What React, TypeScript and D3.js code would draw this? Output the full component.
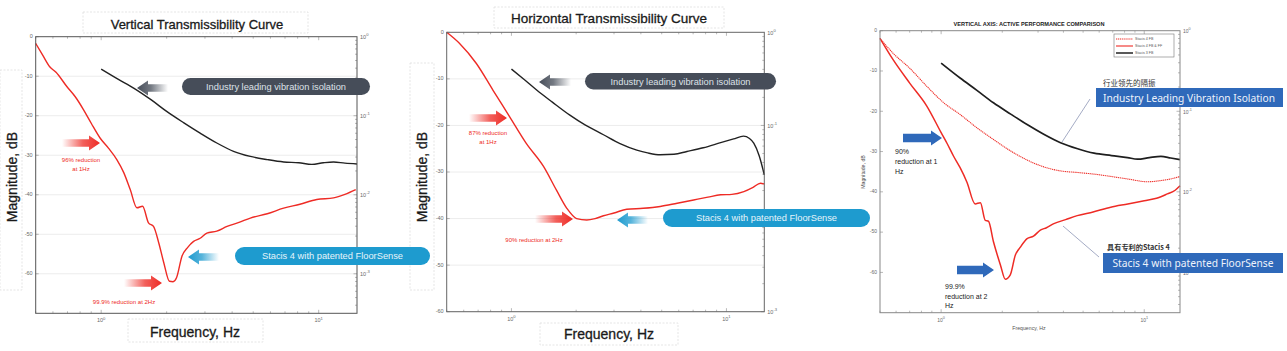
import * as d3 from 'd3';

// ---- data (frequency in Hz, magnitude in dB) ----

// Vertical Transmissibility Curve
const vertFreqBlack = [1, 1.2, 1.41, 1.7, 2.0, 2.4, 2.85, 3.4, 4.06, 4.85, 5.8, 6.9, 8.1, 9.3, 10.5, 11.7, 13.2, 15];
const vertDbBlack = [-8.2, -10.8, -13.0, -16.0, -18.9, -21.8, -24.4, -26.9, -29.0, -30.3, -31.1, -31.7, -31.9, -32.3, -31.9, -31.7, -32.0, -32.2];
const vertFreqRed = [0.5, 0.54, 0.58, 0.62, 0.695, 0.76, 0.83, 0.9, 0.99, 1.08, 1.18, 1.27, 1.36, 1.46, 1.55, 1.65, 1.74, 1.84, 1.94, 2.06, 2.14, 2.22, 2.35, 2.5, 2.66, 2.85, 3.06, 3.4, 3.79, 4.3, 4.85, 5.8, 6.9, 8.2, 9.8, 11.7, 13.2, 14.8];
const vertDbRed = [-1.7, -4.8, -7.6, -9.0, -12.6, -15.2, -18.5, -21.9, -25.7, -28.2, -31.1, -34.4, -38.7, -43.3, -42.9, -47.1, -48.0, -52.2, -57.2, -61.9, -62.0, -61.0, -55.6, -53.3, -51.8, -51.0, -49.7, -49.2, -48.0, -47.0, -45.9, -44.8, -43.4, -42.4, -41.2, -40.8, -39.9, -38.7];

// Horizontal Transmissibility Curve
const horzFreqBlack = [1, 1.15, 1.31, 1.55, 1.87, 2.2, 2.68, 3.2, 3.83, 4.3, 4.92, 5.7, 6.55, 7.8, 9.4, 10.8, 12.0, 12.8, 13.4, 14.2, 15];
const horzDbBlack = [-7.9, -10.2, -12.4, -15.0, -17.8, -19.9, -22.0, -23.9, -25.3, -25.9, -26.3, -26.2, -25.6, -24.8, -23.7, -22.9, -22.3, -22.8, -23.8, -26.5, -30.6];
const horzFreqRed = [0.5, 0.574, 0.687, 0.82, 0.98, 1.17, 1.41, 1.62, 1.81, 2.01, 2.24, 2.45, 2.68, 3.0, 3.44, 4.1, 4.92, 5.9, 7.04, 8.2, 9.4, 10.6, 12.05, 13.3, 14.4, 15];
const horzDbRed = [0, -2.4, -6.7, -12.4, -18.1, -23.8, -28.8, -33.9, -37.8, -40.0, -40.3, -40.0, -39.4, -38.8, -38.0, -37.8, -37.4, -36.7, -36.0, -35.4, -34.9, -34.8, -34.2, -33.3, -32.4, -32.6];

// Vertical axis: active performance comparison
const cmpFreqS3 = [1, 1.24, 1.5, 1.81, 2.2, 2.65, 3.2, 3.87, 4.7, 5.66, 6.9, 8.27, 9.27, 10.6, 12.08, 13.5, 15];
const cmpDbS3 = [-8.05, -11.75, -14.8, -17.9, -20.7, -23.3, -25.7, -27.8, -29.3, -30.4, -31.0, -31.5, -31.9, -31.5, -31.2, -31.6, -32.0];
const cmpFreqFb = [0.5, 0.58, 0.7, 0.85, 1.03, 1.24, 1.5, 1.81, 2.19, 2.65, 3.2, 3.87, 4.7, 5.66, 6.9, 8.27, 10.4, 12.08, 13.5, 15];
const cmpDbFb = [-1.9, -5.6, -9.3, -13.8, -17.9, -20.8, -24.1, -27.0, -29.8, -32.1, -33.8, -34.8, -35.2, -35.6, -36.2, -36.8, -37.5, -37.2, -36.8, -36.2];
const cmpFreqFbFf = [0.5, 0.58, 0.7, 0.85, 1.0, 1.07, 1.15, 1.24, 1.34, 1.47, 1.56, 1.65, 1.71, 1.81, 1.96, 2.07, 2.19, 2.32, 2.45, 2.65, 2.85, 3.08, 3.3, 3.59, 4.1, 4.68, 5.6, 6.84, 8.3, 10, 11.5, 13.0, 14.2, 15];
const cmpDbFbFf = [-1.9, -7.2, -13, -18.7, -25.3, -28.0, -31.1, -34.0, -37.6, -43.0, -42.7, -47.1, -47.3, -52.4, -58.2, -61.7, -60.6, -55.7, -53.8, -51.6, -51.0, -49.5, -48.9, -47.9, -46.9, -45.9, -45.0, -43.8, -43.0, -42.2, -41.6, -40.5, -39.6, -38.5];

const dbTicks = [0, -10, -20, -30, -40, -50, -60];
const decadeTicks = [1, 10];
const rightDecades = [0, -1, -2, -3];
const legendLabels = ['Stacis 4 FB', 'Stacis 4 FB & FF', 'Stacis 3 FB'];

const FONT = '"Liberation Sans", Arial, sans-serif';
const RED = '#ee2b25';
const GREY_PILL = '#464d59';
const BLUE_PILL = '#1e9bcf';
const BLUE_BOX = '#2f69ba';

interface Frame {
  x0: number; x1: number; y0: number; y1: number;
  dbMin: number; grid: boolean; frame: string; fs: number;
  hideRight?: number[]; // right-axis decades covered by a callout in the original
}

function scalesFor(f: Frame) {
  const x = d3.scaleLog().domain([0.5, 15]).range([f.x0, f.x1]);
  const y = d3.scaleLinear().domain([0, f.dbMin]).range([f.y0, f.y1]);
  const yr = d3.scaleLog().domain([1, Math.pow(10, f.dbMin / 20)]).range([f.y0, f.y1]);
  return { x, y, yr };
}

function curve(s: ReturnType<typeof scalesFor>, freq: number[], db: number[]) {
  return d3.line<number>()
    .x((_, i) => s.x(freq[i]))
    .y(v => s.y(v))
    .curve(d3.curveMonotoneX)(db) || '';
}

function Axes({ f }: { f: Frame }) {
  const s = scalesFor(f);
  const xMinor: number[] = [];
  [0.1, 1, 10].forEach(d => { for (let k = 1; k < 10; k++) { const v = k * d; if (v >= 0.5 && v <= 15) xMinor.push(v); } });
  const rMinor: number[] = [];
  const lo = Math.pow(10, f.dbMin / 20);
  [1e-4, 1e-3, 1e-2, 1e-1].forEach(d => { for (let k = 1; k < 10; k++) { const v = k * d; if (v >= lo && v <= 1) rMinor.push(v); } });
  const tc = '#8a8a8a';
  const hidden = f.hideRight || [];
  return (
    <g fontFamily={FONT}>
      <rect x={f.x0} y={f.y0} width={f.x1 - f.x0} height={f.y1 - f.y0} fill="#fff" />
      {f.grid && dbTicks.slice(1).map(t => (
        <line key={'g' + t} x1={f.x0} x2={f.x1} y1={s.y(t)} y2={s.y(t)} stroke="#ececec" strokeWidth={1} />
      ))}
      {dbTicks.map(t => (
        <g key={'l' + t}>
          <line x1={f.x0} x2={f.x0 + 3} y1={s.y(t)} y2={s.y(t)} stroke={tc} strokeWidth={0.6} />
          <text x={f.x0 - 3} y={s.y(t)} fontSize={f.fs} fill="#6a6a6a" textAnchor="end" dominantBaseline="middle">{t}</text>
        </g>
      ))}
      {xMinor.map(v => {
        const major = decadeTicks.includes(v);
        const len = major ? 3.5 : 2;
        return (
          <g key={'x' + v}>
            <line x1={s.x(v)} x2={s.x(v)} y1={f.y1} y2={f.y1 - len} stroke={tc} strokeWidth={0.6} />
            <line x1={s.x(v)} x2={s.x(v)} y1={f.y0} y2={f.y0 + len} stroke={tc} strokeWidth={0.6} />
          </g>
        );
      })}
      {decadeTicks.map((v, i) => (
        <text key={'xl' + v} x={s.x(v)} y={f.y1 + 9} fontSize={f.fs} fill="#6a6a6a" textAnchor="middle">
          10<tspan dy={-2.5} fontSize={f.fs * 0.75}>{i}</tspan>
        </text>
      ))}
      {rMinor.map(v => {
        const major = rightDecades.some(d => Math.abs(Math.pow(10, d) - v) < 1e-9);
        return <line key={'r' + v} x1={f.x1} x2={f.x1 - (major ? 3.5 : 2)} y1={s.yr(v)} y2={s.yr(v)} stroke={tc} strokeWidth={0.6} />;
      })}
      {rightDecades.filter(d => Math.pow(10, d) >= lo && !hidden.includes(d)).map(d => (
        <text key={'rl' + d} x={f.x1 + 3} y={s.yr(Math.pow(10, d)) + 1} fontSize={f.fs} fill="#6a6a6a" dominantBaseline="middle">
          10<tspan dy={-2.5} fontSize={f.fs * 0.75}>{d}</tspan>
        </text>
      ))}
    </g>
  );
}

function FrameBox({ f }: { f: Frame }) {
  return <rect x={f.x0} y={f.y0} width={f.x1 - f.x0} height={f.y1 - f.y0} fill="none" stroke={f.frame} strokeWidth={1} />;
}

// arrow polygon from tail to head; head is pointed at xh
function arrowPts(xt: number, xh: number, y: number, sh: number, hh: number, hl: number) {
  const d = Math.sign(xh - xt);
  const xb = xh - d * hl;
  return [[xt, y - sh], [xb, y - sh], [xb, y - hh], [xh, y], [xb, y + hh], [xb, y + sh], [xt, y + sh]]
    .map(p => p.join(',')).join(' ');
}

function BlurArrow({ id, xt, xh, y, color }: { id: string; xt: number; xh: number; y: number; color: string }) {
  return (
    <g>
      <defs>
        <linearGradient id={id} gradientUnits="userSpaceOnUse" x1={xt} x2={xh} y1={0} y2={0}>
          <stop offset="0" stopColor={color} stopOpacity={0} />
          <stop offset="0.55" stopColor={color} stopOpacity={0.75} />
          <stop offset="1" stopColor={color} stopOpacity={1} />
        </linearGradient>
      </defs>
      <polygon points={arrowPts(xt, xh, y, 3.8, 7.5, 11)} fill={`url(#${id})`} />
    </g>
  );
}

function Pill({ x, y, w, h, fill, text, fs, tc }: { x: number; y: number; w: number; h: number; fill: string; text: string; fs: number; tc: string }) {
  return (
    <g>
      <rect x={x} y={y} width={w} height={h} rx={h / 2} ry={h / 2} fill={fill} />
      <text x={x + w / 2} y={y + h / 2 + fs * 0.36} textAnchor="middle" fontSize={fs} fill={tc} fontFamily={FONT}>{text}</text>
    </g>
  );
}

function FaintBox({ x, y, w, h }: { x: number; y: number; w: number; h: number }) {
  return <rect x={x} y={y} width={w} height={h} fill="none" stroke="#dedede" strokeWidth={0.8} strokeDasharray="2 1.5" />;
}

const f1: Frame = { x0: 35.7, x1: 357, y0: 36.7, y1: 313.3, dbMin: -70, grid: true, frame: '#555', fs: 5.5 };
const f2: Frame = { x0: 446.7, x1: 764.3, y0: 32.3, y1: 311.7, dbMin: -60, grid: true, frame: '#666', fs: 5.5, hideRight: [-2] };
const f3: Frame = { x0: 880, x1: 1180, y0: 30.7, y1: 312.7, dbMin: -70, grid: false, frame: '#888', fs: 5 };

const heading = { fill: '#1a1a1a', stroke: '#1a1a1a', strokeWidth: 0.3, fontFamily: FONT, textAnchor: 'middle' as const };

export default function App() {
  const s1 = scalesFor(f1);
  const s2 = scalesFor(f2);
  const s3 = scalesFor(f3);
  return (
    <svg width={1287} height={351} style={{ position: 'absolute', left: 0, top: 0, background: '#fff' }}>
      {/* ---------- Panel 1: vertical ---------- */}
      <FaintBox x={83} y={12} w={225} h={21} />
      <FaintBox x={128} y={319} w={135} h={23} />
      <FaintBox x={0} y={70} w={22} h={220} />
      <text x={197} y={29} fontSize={13} {...heading}>Vertical Transmissibility Curve</text>
      <text transform="translate(17,177) rotate(-90)" fontSize={14} {...heading}>Magnitude, dB</text>
      <text x={195} y={337} fontSize={14} {...heading}>Frequency, Hz</text>
      <Axes f={f1} />
      <path d={curve(s1, vertFreqBlack, vertDbBlack)} fill="none" stroke="#222" strokeWidth={1.4} />
      <path d={curve(s1, vertFreqRed, vertDbRed)} fill="none" stroke={RED} strokeWidth={1.4} />
      <FrameBox f={f1} />
      <BlurArrow id="a1" xt={62} xh={100} y={143} color={RED} />
      <BlurArrow id="a2" xt={124} xh={162} y={283} color={RED} />
      <BlurArrow id="a3" xt={168} xh={137} y={88} color={GREY_PILL} />
      <BlurArrow id="a4" xt={219} xh={188} y={257} color={BLUE_PILL} />
      <g fontFamily={FONT} fontSize={6} fill={RED} textAnchor="middle">
        <text x={81} y={162}>96% reduction</text>
        <text x={81} y={171}>at 1Hz</text>
        <text x={124} y={304}>99.9% reduction at 2Hz</text>
      </g>
      <Pill x={182} y={78} w={188} h={17} fill={GREY_PILL} text="Industry leading vibration isolation" fs={9.3} tc="#dde1e8" />

      {/* ---------- Panel 2: horizontal ---------- */}
      <FaintBox x={494} y={7} w={230} h={21} />
      <FaintBox x={540} y={323} w={138} h={22} />
      <FaintBox x={410} y={63} w={24} h={227} />
      <text x={609} y={23} fontSize={13.5} {...heading}>Horizontal Transmissibility Curve</text>
      <text transform="translate(427,177) rotate(-90)" fontSize={14} {...heading}>Magnitude, dB</text>
      <text x={609} y={339} fontSize={14} {...heading}>Frequency, Hz</text>
      <Axes f={f2} />
      <path d={curve(s2, horzFreqBlack, horzDbBlack)} fill="none" stroke="#222" strokeWidth={1.4} />
      <path d={curve(s2, horzFreqRed, horzDbRed)} fill="none" stroke={RED} strokeWidth={1.4} />
      <FrameBox f={f2} />
      <BlurArrow id="b1" xt={469} xh={507} y={118} color={RED} />
      <BlurArrow id="b2" xt={535} xh={573} y={219} color={RED} />
      <BlurArrow id="b3" xt={571} xh={539} y={82} color={GREY_PILL} />
      <BlurArrow id="b4" xt={648} xh={617} y={220} color={BLUE_PILL} />
      <g fontFamily={FONT} fontSize={6} fill={RED} textAnchor="middle">
        <text x={488} y={135}>87% reduction</text>
        <text x={488} y={144}>at 1Hz</text>
        <text x={534} y={242}>90% reduction at 2Hz</text>
      </g>
      <Pill x={585} y={73} w={191} h={16.5} fill={GREY_PILL} text="Industry leading vibration isolation" fs={9.3} tc="#dde1e8" />

      {/* panel 1 blue pill overlaps into panel 2 */}
      <Pill x={235} y={247} w={195} h={18} fill={BLUE_PILL} text="Stacis 4 with patented FloorSense" fs={9.3} tc="#e6f4fa" />
      <Pill x={663} y={209} w={207} h={18} fill={BLUE_PILL} text="Stacis 4 with patented FloorSense" fs={9.3} tc="#e6f4fa" />

      {/* ---------- Panel 3: comparison ---------- */}
      <text x={1029} y={26} textAnchor="middle" fontSize={5.6} fontWeight="bold" fill="#222" fontFamily={FONT}>VERTICAL AXIS: ACTIVE PERFORMANCE COMPARISON</text>
      <text transform="translate(865,172) rotate(-90)" textAnchor="middle" fontSize={5.2} fill="#444" fontFamily={FONT}>Magnitude, dB</text>
      <text x={1029} y={330} textAnchor="middle" fontSize={5.2} fill="#555" fontFamily={FONT}>Frequency, Hz</text>
      <Axes f={f3} />
      <path d={curve(s3, cmpFreqS3, cmpDbS3)} fill="none" stroke="#1e1e1e" strokeWidth={1.7} />
      <path d={curve(s3, cmpFreqFb, cmpDbFb)} fill="none" stroke={RED} strokeWidth={1.1} strokeDasharray="1.2 0.7" />
      <path d={curve(s3, cmpFreqFbFf, cmpDbFbFf)} fill="none" stroke={RED} strokeWidth={1.5} />
      <FrameBox f={f3} />
      <g>
        <rect x={1114} y={34} width={60} height={23} fill="#fff" stroke="#777" strokeWidth={0.6} />
        {legendLabels.map((lab, i) => (
          <g key={lab}>
            <line x1={1116} x2={1133} y1={39 + i * 7} y2={39 + i * 7}
              stroke={i === 2 ? '#222' : RED} strokeWidth={i === 2 ? 1.5 : 1.1}
              strokeDasharray={i === 0 ? '1.2 0.7' : undefined} />
            <text x={1135} y={40.3 + i * 7} fontSize={3.6} fill="#555" fontFamily={FONT}>{lab}</text>
          </g>
        ))}
      </g>
      <polygon points={arrowPts(903, 942, 138, 4.2, 7.5, 11)} fill={BLUE_BOX} />
      <polygon points={arrowPts(957, 994, 270, 4.2, 7.5, 11)} fill={BLUE_BOX} />
      <g fontFamily={FONT} fontSize={7} fill="#222">
        <text x={895} y={154}>90%</text>
        <text x={895} y={164}>reduction at 1</text>
        <text x={895} y={174}>Hz</text>
        <text x={945} y={289}>99.9%</text>
        <text x={945} y={299}>reduction at 2</text>
        <text x={945} y={308}>Hz</text>
      </g>
      <line x1={1062} y1={142} x2={1090} y2={99} stroke="#7c86aa" strokeWidth={0.7} />
      <line x1={1063} y1={226} x2={1099} y2={257} stroke="#7c86aa" strokeWidth={0.7} />
      <text x={1103} y={86} fontSize={7.5} fill="#333" fontFamily='"Noto Sans CJK SC", sans-serif'>行业领先的隔振</text>
      <text x={1107} y={250} fontSize={7.2} fontWeight="bold" fill="#333" fontFamily='"Noto Sans CJK SC", sans-serif'>具有专利的Stacis 4</text>
      <rect x={1096} y={88} width={187} height={19} fill={BLUE_BOX} />
      <text x={1189} y={101.5} textAnchor="middle" fontSize={10.5} fill="#eef3fb" fontFamily='"Noto Sans", sans-serif' textLength={172} lengthAdjust="spacingAndGlyphs">Industry Leading Vibration Isolation</text>
      <rect x={1103} y={253} width={180} height={20} fill={BLUE_BOX} />
      <text x={1193} y={267} textAnchor="middle" fontSize={10.5} fill="#eef3fb" fontFamily='"Noto Sans", sans-serif' textLength={161} lengthAdjust="spacingAndGlyphs">Stacis 4 with patented FloorSense</text>
    </svg>
  );
}
